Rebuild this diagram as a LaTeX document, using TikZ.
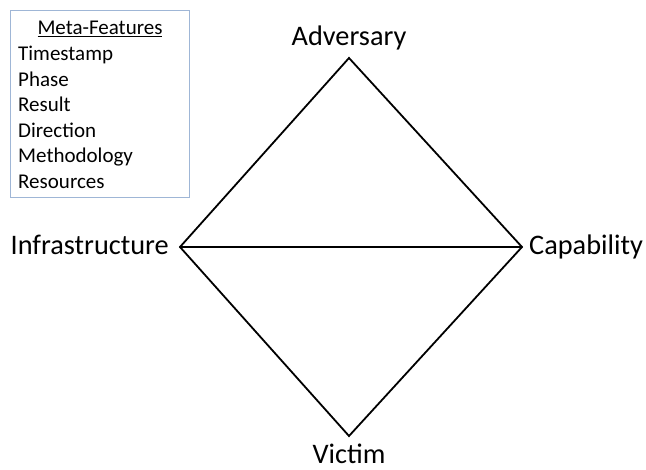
\documentclass[tikz,border=0pt]{standalone}
\usepackage{fontspec}
\setmainfont{Carlito}
\definecolor{boxblue}{HTML}{9FB6D6}
\begin{document}
\begin{tikzpicture}[x=1pt,y=-1pt,
  lbl/.style={inner sep=0pt,anchor=base,font=\fontsize{28.3}{30}\selectfont},
  edge/.style={line width=1.8pt,line join=miter},
  meta/.style={inner sep=0pt,anchor=base west,font=\fontsize{21}{24}\selectfont}]
\useasboundingbox (0,0) rectangle (646,470);
\draw[boxblue,line width=1pt] (10.5,10.5) rectangle (189,198);
\node[inner sep=0pt,anchor=base,font=\fontsize{21}{24}\selectfont] (mf) at (100,35) {\underline{Meta-Features}};
\node[meta] (m1) at (18,61) {Timestamp};
\node[meta] (m2) at (18,86.5) {Phase};
\node[meta] (m3) at (18,112) {Result};
\node[meta] (m4) at (18,137.5) {Direction};
\node[meta] (m5) at (18,163) {Methodology};
\node[meta] (m6) at (18,188.5) {Resources};
\coordinate (T) at (349,58);
\coordinate (L) at (180,247);
\coordinate (R) at (522,247);
\coordinate (B) at (349,436);
\draw[edge] (T) -- (R) -- (B) -- (L) -- cycle;
\draw[edge] (L) -- (R);
\node[lbl] (adv) at (349,46) {Adversary};
\node[lbl,anchor=base east] (inf) at (169,255) {Infrastructure};
\node[lbl,anchor=base west] (cap) at (529,255) {Capability};
\node[lbl] (vic) at (349,464) {Victim};
\end{tikzpicture}
\end{document}
